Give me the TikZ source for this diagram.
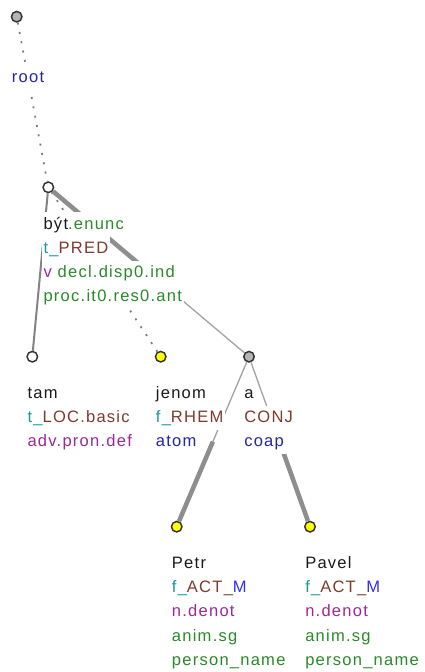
\documentclass[tikz,border=0pt]{standalone}
\usepackage{fontspec}
\setmainfont{Liberation Sans}[LetterSpace=7.5]
\usetikzlibrary{calc}
\definecolor{lemma}{HTML}{1A1A1A}
\definecolor{grn}{HTML}{2A8A2A}
\definecolor{tl}{HTML}{1A9A9A}
\definecolor{brn}{HTML}{7F3A2C}
\definecolor{prp}{HTML}{9A2A9A}
\definecolor{dblue}{HTML}{2525A5}
\definecolor{lblue}{HTML}{3030F0}
\definecolor{edgegray}{HTML}{9A9A9A}
\definecolor{nodegray}{HTML}{B4B4B4}
\definecolor{nodeyel}{HTML}{FFFF00}
\definecolor{ring}{HTML}{333333}
\setlength{\fboxsep}{0pt}
\newcommand\lblfont{\fontsize{12.4}{18.15}\selectfont}
\newcommand\tline[1]{\colorbox{white}{\hspace{1.5pt}\strut#1\hspace{1.5pt}}}
\tikzset{
tnode/.style={circle,draw=ring,line width=1.1pt,minimum size=7.9pt,inner sep=0pt},
whitenode/.style={tnode,fill=white},
graynode/.style={tnode,fill=nodegray},
yelnode/.style={tnode,fill=nodeyel},
light/.style={draw=edgegray!90,line width=1pt},
medium/.style={draw=edgegray!85!black,line width=1.5pt},
heavy/.style={draw=edgegray!92!black,line width=3.4pt},
dots/.style={draw=edgegray!80!black,line width=1.3pt,dash pattern=on 1.5pt off 5.6pt},
lab/.style={anchor=north west,align=left,inner sep=0pt,font=\lblfont}}

\begin{document}
\begin{tikzpicture}[x=0.75pt,y=-0.75pt]
\useasboundingbox (0,0) rectangle (425,672);
% tree nodes
\node[graynode] (root) at (16.7,16.7) {};
\node[whitenode] (byt) at (48.3,187.3) {};
\node[whitenode] (tam) at (32.3,356.7) {};
\node[yelnode] (jenom) at (160.7,356.7) {};
\node[graynode] (a) at (249,356.7) {};
\node[yelnode] (petr) at (176.7,526.7) {};
\node[yelnode] (pavel) at (310,526.7) {};
\coordinate (byt-a) at ($(byt)!.5!(a)$);
\coordinate (a-petr) at ($(a)!.5!(petr)$);
\coordinate (a-pavel) at ($(a)!.5!(pavel)$);
% edges
\draw[dots] (root)--(byt);
\draw[dots] (byt)--(jenom);
\draw[medium] (byt)--(tam);
\draw[heavy] (byt)--(byt-a);
\draw[light] (byt-a)--(a);
\draw[light] (a)--(a-petr);
\draw[heavy] (a-petr)--(petr);
\draw[light] (a)--(a-pavel);
\draw[heavy] (a-pavel)--(pavel);
% labels
\node[lab] (root-l) at ([shift={(-7,49)}]root.center) {\tline{\textcolor{dblue}{root}}};
\node[lab] (byt-l) at ([shift={(-7,24.6)}]byt.center) {\tline{\textcolor{lemma}{být}\textcolor{grn}{.enunc}}\\
  \tline{\textcolor{tl}{t\_}\textcolor{brn}{PRED}}\\
  \tline{\textcolor{prp}{v} \textcolor{grn}{decl.disp0.ind}}\\
  \tline{\textcolor{grn}{proc.it0.res0.ant}}};
\node[lab] (tam-l) at ([shift={(-7,24.6)}]tam.center) {\tline{\textcolor{lemma}{tam}}\\
  \tline{\textcolor{tl}{t\_}\textcolor{brn}{LOC.basic}}\\
  \tline{\textcolor{prp}{adv.pron.def}}};
\node[lab] (jenom-l) at ([shift={(-7,24.6)}]jenom.center) {\tline{\textcolor{lemma}{jenom}}\\
  \tline{\textcolor{tl}{f\_}\textcolor{brn}{RHEM}}\\
  \tline{\textcolor{dblue}{atom}}};
\node[lab] (a-l) at ([shift={(-7,24.6)}]a.center) {\tline{\textcolor{lemma}{a}}\\
  \tline{\textcolor{brn}{CONJ}}\\
  \tline{\textcolor{dblue}{coap}}};
\node[lab] (petr-l) at ([shift={(-7,24.6)}]petr.center) {\tline{\textcolor{lemma}{Petr}}\\
  \tline{\textcolor{tl}{f\_}\textcolor{brn}{ACT\_}\textcolor{lblue}{M}}\\
  \tline{\textcolor{prp}{n.denot}}\\
  \tline{\textcolor{grn}{anim.sg}}\\
  \tline{\textcolor{grn}{person\_name}}};
\node[lab] (pavel-l) at ([shift={(-7,24.6)}]pavel.center) {\tline{\textcolor{lemma}{Pavel}}\\
  \tline{\textcolor{tl}{f\_}\textcolor{brn}{ACT\_}\textcolor{lblue}{M}}\\
  \tline{\textcolor{prp}{n.denot}}\\
  \tline{\textcolor{grn}{anim.sg}}\\
  \tline{\textcolor{grn}{person\_name}}};
\end{tikzpicture}
\end{document}
